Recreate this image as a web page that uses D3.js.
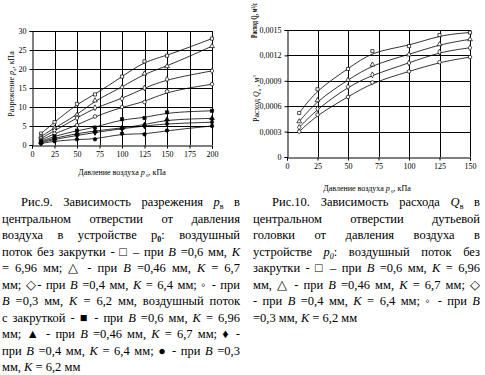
<!DOCTYPE html>
<html>
<head>
<meta charset="utf-8">
<script src="https://cdn.jsdelivr.net/npm/d3@7"></script>
<style>
  body { margin: 0; background: #fff; }
  #wrap { position: relative; width: 485px; height: 375px; overflow: hidden; }
  svg { position: absolute; left: 0; top: 0; }
  .cap { position: absolute; font-family: "Liberation Serif", "Times New Roman", serif; font-size: 12.5px; line-height: 16.5px; color: #000; }
  .cap div { text-align: justify; text-align-last: justify; white-space: nowrap; }
  .cap div.last { text-align-last: left; }
  .cap div.first { padding-left: 19px; }
  .cap i { font-style: italic; }
  .cap sub { font-size: 8px; vertical-align: -3px; line-height: 0; }
  .axis text { font-family: "Liberation Serif", "Times New Roman", serif; font-size: 8px; fill: #000; }
  .ttl { font-family: "Liberation Serif", "Times New Roman", serif; font-size: 8px; fill: #000; }
</style>
</head>
<body>
<div id="wrap">
<svg id="chart" width="485" height="375"></svg>
<div class="cap" id="capL" style="left:2px; top:194px; width:238px;"></div>
<div class="cap" id="capR" style="left:253px; top:194px; width:227px;"></div>
</div>
<script>
// left chart: разрежение vs давление
var xLeft = [10, 25, 50, 70, 100, 125, 150, 200];
var leftSquareOpen = [3, 6, 10.8, 13.3, 18, 22, 23.5, 28];
var leftTriOpen = [2.2, 4.5, 7.9, 11.7, 15.2, 18.8, 20.7, 26];
var leftDiaOpen = [1.7, 3.8, 7.1, 9.8, 12.2, 15, 17.3, 19.5];
var leftCircOpen = [1.3, 3, 5.2, 7.5, 10, 11.3, 14.1, 16];
var leftSquareFill = [1, 2.3, 3.8, 4.6, 6.8, 7.1, 8.6, 9];
var leftTriFill = [0.8, 1.8, 3, 3.7, 4.5, 5.3, 6.7, 7];
var leftDiaFill = [0.6, 1.5, 2.5, 3.3, 4.3, 5, 5.6, 6];
var leftCircFill = [0.4, 1, 1.5, 1.5, 3, 2.8, 3.8, 5];
var xTicksLeft = [0, 25, 50, 75, 100, 125, 150, 175, 200];
var yTicksLeft = [0, 5, 10, 15, 20, 25, 30];

// right chart: расход vs давление
var xRight = [10, 25, 50, 70, 100, 125, 150];
var rightSquare = [0.00052, 0.00080, 0.00104, 0.00125, 0.00131, 0.00144, 0.00147];
var rightTri = [0.00042, 0.00067, 0.00091, 0.00109, 0.00121, 0.00133, 0.00139];
var rightDia = [0.00035, 0.00057, 0.00083, 0.00097, 0.00111, 0.00124, 0.00129];
var rightCirc = [0.00030, 0.00050, 0.00071, 0.00088, 0.00101, 0.00112, 0.00118];
var xTicksRight = [0, 25, 50, 75, 100, 125, 150];
var yTicksRight = [0, 0.0003, 0.0006, 0.0009, 0.0012, 0.0015];

var svg = d3.select("#chart");

function drawPanel(o) {
  var x = d3.scaleLinear().domain(o.xDom).range([o.x0, o.x1]);
  var y = d3.scaleLinear().domain(o.yDom).range([o.y0, o.y1]);
  var g = svg.append("g");

  // grid
  g.selectAll(".gx").data(o.xTicks.slice(1)).join("line")
    .attr("x1", d => Math.round(x(d)) + 0.5).attr("x2", d => Math.round(x(d)) + 0.5)
    .attr("y1", o.y0).attr("y2", o.y1).attr("stroke", "#000").attr("stroke-width", 1);
  g.selectAll(".gy").data(o.yTicks.slice(1)).join("line")
    .attr("y1", d => Math.round(y(d)) + 0.5).attr("y2", d => Math.round(y(d)) + 0.5)
    .attr("x1", o.x0).attr("x2", o.x1).attr("stroke", "#000").attr("stroke-width", 1);

  g.append("g").attr("class", "axis")
    .attr("transform", "translate(0," + (Math.round(o.y0) + 0.5) + ")")
    .call(d3.axisBottom(x).tickValues(o.xTicks).tickSize(3).tickPadding(3));
  g.append("g").attr("class", "axis")
    .attr("transform", "translate(" + (Math.round(o.x0) + 0.5) + ",0)")
    .call(d3.axisLeft(y).tickValues(o.yTicks).tickSize(3).tickPadding(3).tickFormat(o.yFmt));
  g.selectAll(".axis path").attr("stroke", "#000");
  g.selectAll(".axis line").attr("stroke", "#000");

  var line = d3.line().x(d => x(d[0])).y(d => y(d[1])).curve(d3.curveBasis);
  o.series.forEach(function (s) {
    var pts = o.xs.map((v, i) => [v, s.v[i]]);
    g.append("path").datum(pts).attr("d", line)
      .attr("fill", "none").attr("stroke", "#000").attr("stroke-width", 0.8);
    g.selectAll(null).data(pts).join("path")
      .attr("transform", d => "translate(" + x(d[0]) + "," + y(d[1]) + ")")
      .attr("d", d3.symbol().type(s.sym).size(10))
      .attr("fill", s.fill ? "#000" : "#fff").attr("stroke", "#000").attr("stroke-width", 0.7);
  });
}

drawPanel({
  x0: 32, x1: 212, y0: 145, y1: 31,
  xDom: [0, 200], yDom: [0, 30],
  xTicks: xTicksLeft, yTicks: yTicksLeft, yFmt: d3.format("d"),
  xs: xLeft,
  series: [
    { v: leftSquareOpen, sym: d3.symbolSquare },
    { v: leftTriOpen, sym: d3.symbolTriangle },
    { v: leftDiaOpen, sym: d3.symbolDiamond },
    { v: leftCircOpen, sym: d3.symbolCircle },
    { v: leftSquareFill, sym: d3.symbolSquare, fill: true },
    { v: leftTriFill, sym: d3.symbolTriangle, fill: true },
    { v: leftDiaFill, sym: d3.symbolDiamond, fill: true },
    { v: leftCircFill, sym: d3.symbolCircle, fill: true }
  ]
});

drawPanel({
  x0: 287, x1: 470, y0: 157, y1: 30,
  xDom: [0, 150], yDom: [0, 0.0015],
  xTicks: xTicksRight, yTicks: yTicksRight,
  yFmt: d => d === 0 ? "0" : d.toFixed(4).replace(".", ","),
  xs: xRight,
  series: [
    { v: rightSquare, sym: d3.symbolSquare },
    { v: rightTri, sym: d3.symbolTriangle },
    { v: rightDia, sym: d3.symbolDiamond },
    { v: rightCirc, sym: d3.symbolCircle }
  ]
});

// axis titles
var t1 = svg.append("text").attr("class", "ttl").attr("text-anchor", "middle")
  .attr("transform", "translate(14,84) rotate(-90)");
t1.append("tspan").text("Разрежение  ");
t1.append("tspan").attr("font-style", "italic").text("p");
t1.append("tspan").attr("font-size", "5px").attr("dy", 1.5).text("в");
t1.append("tspan").attr("dy", -1.5).text(", кПа");

function xTitle(cx, cy) {
  var t = svg.append("text").attr("class", "ttl").attr("text-anchor", "middle").attr("x", cx).attr("y", cy);
  t.append("tspan").text("Давление воздуха ");
  t.append("tspan").attr("font-style", "italic").text("p");
  t.append("tspan").attr("font-size", "5px").attr("dy", 1.5).text(" 0");
  t.append("tspan").attr("dy", -1.5).text(", кПа");
}
xTitle(122, 175);
xTitle(367, 191);

var t2 = svg.append("text").attr("class", "ttl").attr("text-anchor", "start")
  .attr("transform", "translate(259,122) rotate(-90)").attr("fill", "#333");
t2.append("tspan").text("Расход  ");
t2.append("tspan").attr("font-style", "italic").text("Q");
t2.append("tspan").attr("font-size", "5px").attr("dy", 1.5).text("в");
t2.append("tspan").attr("dy", -1.5).text(" , м");
t2.append("tspan").attr("font-size", "5px").attr("dy", -3).text("3");
// bold overprinted title squeezed into the space above the axis
var t3 = svg.append("text").attr("class", "ttl").attr("text-anchor", "start")
  .attr("font-weight", "bold").attr("font-size", "7px")
  .attr("transform", "translate(257,38) rotate(-90)")
  .attr("textLength", 35).attr("lengthAdjust", "spacingAndGlyphs")
  .text("Расход Q, м³/с");
</script>
<script>
// captions
var capLeftLines = [
  "Рис.9. Зависимость разрежения <i>p</i><sub>в</sub> в",
  "центральном отверстии от давления",
  "воздуха в устройстве p<sub><b>0</b></sub>: воздушный",
  "поток без закрутки - &#9633; – при <i>B</i> =0,6 мм, <i>K</i>",
  "= 6,96 мм; &#9651; - при <i>B</i> =0,46 мм, <i>K</i> = 6,7",
  "мм; &#9671;- при <i>B</i> =0,4 мм, <i>K</i> = 6,4 мм; &#9702; - при",
  "<i>B</i> =0,3 мм, <i>K</i> = 6,2 мм, воздушный поток",
  "с закруткой - &#9632; - при <i>B</i> =0,6 мм, <i>K</i> = 6,96",
  "мм; &#9650; - при <i>B</i> =0,46 мм, <i>K</i> = 6,7 мм; &#9830; -",
  "при <i>B</i> =0,4 мм, <i>K</i> = 6,4 мм; &#9679; - при <i>B</i> =0,3",
  "мм, <i>K</i> = 6,2 мм"
];
var capRightLines = [
  "Рис.10. Зависимость расхода <i>Q</i><sub>в</sub> в",
  "центральном отверстии дутьевой",
  "головки от давления воздуха в",
  "устройстве <i>p</i><sub><i>0</i></sub>: воздушный поток без",
  "закрутки - &#9633; – при <i>B</i> =0,6 мм, <i>K</i> = 6,96",
  "мм, &#9651; - при <i>B</i> =0,46 мм, <i>K</i> = 6,7 мм; &#9671;",
  "- при <i>B</i> =0,4 мм, <i>K</i> = 6,4 мм; &#9702; - при <i>B</i>",
  "=0,3 мм, <i>K</i> = 6,2 мм"
];
function caption(sel, lines) {
  d3.select(sel).selectAll("div").data(lines).join("div")
    .attr("class", (d, i) => (i === 0 ? "first" : "") + (i === lines.length - 1 ? " last" : ""))
    .html(d => d);
}
caption("#capL", capLeftLines);
caption("#capR", capRightLines);
</script>
</body>
</html>
